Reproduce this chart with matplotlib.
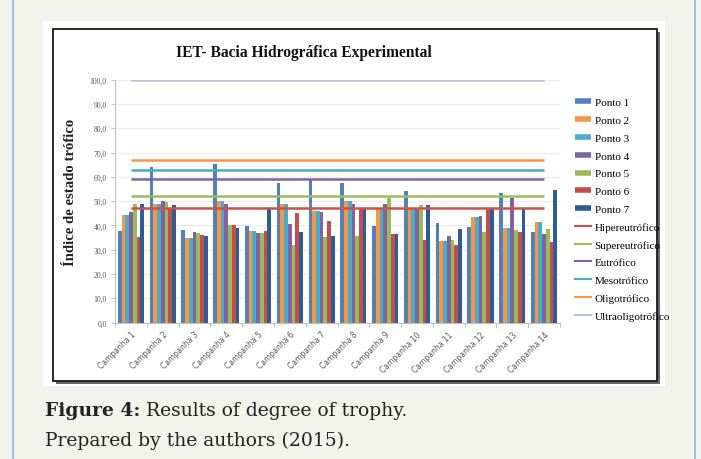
import matplotlib
matplotlib.use('Agg')
import matplotlib.pyplot as plt
import numpy as np
from matplotlib.patches import Rectangle
from matplotlib.lines import Line2D

# ---------------- data ----------------
campanhas = ['Campanha 1', 'Campanha 2', 'Campanha 3', 'Campanha 4', 'Campanha 5',
             'Campanha 6', 'Campanha 7', 'Campanha 8', 'Campanha 9', 'Campanha 10',
             'Campanha 11', 'Campanha 12', 'Campanha 13', 'Campanha 14']
ponto1 = [37.6, 64.0, 38.3, 65.4, 39.7, 57.4, 58.8, 57.4, 39.7, 54.2, 40.9, 39.4, 53.2, 37.1]
ponto2 = [44.3, 48.8, 34.6, 50.1, 37.7, 48.8, 46.0, 50.1, 46.7, 46.7, 33.5, 43.3, 38.8, 41.2]
ponto3 = [44.3, 48.8, 34.6, 50.1, 37.6, 48.8, 46.0, 50.0, 46.7, 46.7, 33.5, 43.3, 38.8, 41.2]
ponto4 = [45.5, 50.1, 37.2, 48.6, 36.9, 40.6, 45.6, 48.6, 48.7, 46.7, 35.7, 43.7, 51.4, 36.5]
ponto5 = [48.8, 49.5, 36.8, 40.3, 36.9, 32.0, 35.1, 35.6, 51.1, 48.3, 34.1, 37.1, 38.2, 38.4]
ponto6 = [35.4, 47.1, 35.9, 40.3, 37.7, 45.3, 42.0, 46.8, 36.3, 34.1, 32.0, 46.7, 37.1, 33.1]
ponto7 = [48.6, 48.3, 35.6, 39.0, 47.0, 37.2, 35.5, 46.8, 36.6, 48.4, 38.5, 46.7, 46.7, 54.7]
series_names = ['Ponto 1', 'Ponto 2', 'Ponto 3', 'Ponto 4', 'Ponto 5', 'Ponto 6', 'Ponto 7']
series_vals = [ponto1, ponto2, ponto3, ponto4, ponto5, ponto6, ponto7]
series_colors = ['#4F81BD', '#F79646', '#4BACC6', '#8064A2', '#9BBB59', '#C0504D', '#2F5C96']

class_names = ['Hipereutrófico', 'Supereutrófico', 'Eutrófico', 'Mesotrófico',
               'Oligotrófico', 'Ultraoligotrófico']
class_levels = [47, 52, 59, 63, 67, 100]
class_colors = ['#D0504D', '#9BBB59', '#8064A2', '#4BACC6', '#F79646', '#B8C4DA']

yticks = [0, 10, 20, 30, 40, 50, 60, 70, 80, 90, 100]

# ---------------- figure ----------------
W, H = 701, 460
fig = plt.figure(figsize=(7.01, 4.60), dpi=100)
fig.patch.set_facecolor('#F3F3EE')

def fx(px):
    return px / W

def fy(py):
    return 1 - py / H

tf = fig.transFigure
for xp in (13.5, 694.5):
    fig.add_artist(Line2D([fx(xp), fx(xp)], [0, 1], color='#8DB4E2', lw=1.2,
                          transform=tf, zorder=-5))

fig.add_artist(Rectangle((fx(43), fy(387)), fx(665) - fx(43), fy(22) - fy(387),
                         transform=tf, facecolor='white', edgecolor='none', zorder=-4))
fig.add_artist(Rectangle((fx(55.5), fy(384.5)), fx(657) - fx(53), fy(30) - fy(382),
                         transform=tf, facecolor='#666666', edgecolor='none', zorder=-3))
fig.add_artist(Rectangle((fx(53), fy(382)), fx(657) - fx(53), fy(30) - fy(382),
                         transform=tf, facecolor='white', edgecolor='#1A1A1A', lw=1.3,
                         zorder=-2))

ax = fig.add_axes([fx(115), fy(323.5), fx(560) - fx(115), fy(80.7) - fy(323.5)])
ax.set_facecolor('none')

x = np.arange(len(campanhas))
n = len(series_vals)
bw = 1 / (n + 1.5)
for i, (vals, col) in enumerate(zip(series_vals, series_colors)):
    ax.bar(x + (i - (n - 1) / 2) * bw, vals, width=bw, color=col, edgecolor='none',
           zorder=2)

for lvl, col in zip(class_levels, class_colors):
    ax.hlines(lvl, x[0], x[-1], color=col, lw=1.8, zorder=3)

ax.set_xlim(-0.5, len(campanhas) - 0.5)
ax.set_ylim(0, 100)
ax.set_yticks(yticks)
ax.set_yticklabels([f'{v:.1f}'.replace('.', ',') for v in yticks],
                   fontsize=5.5, color='#595959', family='Liberation Serif')
ax.set_xticks(x)
ax.set_xticklabels(campanhas, rotation=45, ha='right', rotation_mode='anchor',
                   fontsize=5.5, color='#595959', family='DejaVu Sans')
ax.set_xticks(np.arange(-0.5, len(campanhas), 1), minor=True)
ax.tick_params(axis='x', which='major', length=0, pad=5)
ax.tick_params(axis='x', which='minor', length=3, color='#BFBFBF', width=0.7)
ax.tick_params(axis='y', length=3, color='#BFBFBF', width=0.7, pad=3)
for s in ('top', 'right'):
    ax.spines[s].set_visible(False)
for s in ('left', 'bottom'):
    ax.spines[s].set_color('#BFBFBF')
    ax.spines[s].set_linewidth(0.8)
ax.yaxis.grid(True, color='#EBEBEB', lw=0.8, zorder=0)
ax.set_axisbelow(True)

fig.text(fx(304), fy(53), 'IET- Bacia Hidrográfica Experimental', ha='center',
         va='center', family='Liberation Serif', weight='bold', size=11.2, color='#111111')
fig.text(fx(70), fy(192), 'Índice de estado trófico', ha='center', va='center',
         rotation=90, family='Liberation Serif', weight='bold', size=10.6, color='#222222')

handles = []
for nm, col in zip(series_names, series_colors):
    handles.append(Line2D([0], [0], color=col, lw=4, solid_capstyle='butt'))
for nm, col in zip(class_names, class_colors):
    handles.append(Line2D([0], [0], color=col, lw=1.5))
fig.legend(handles, series_names + class_names, loc='upper left',
           bbox_to_anchor=(fx(569), fy(93)), frameon=False, borderpad=0,
           handlelength=1.5, handletextpad=0.3, labelspacing=0.72,
           prop={'family': 'Liberation Serif', 'size': 8})

t1 = fig.text(fx(45), fy(411), 'Figure 4:', ha='left', va='center',
              family='DejaVu Serif', weight='bold', size=13.5, color='#222222')
fig.canvas.draw()
bb = t1.get_window_extent(fig.canvas.get_renderer())
fig.text(bb.x1 / W + fx(6), fy(411), 'Results of degree of trophy.', ha='left',
         va='center', family='DejaVu Serif', size=13.5, color='#222222')
fig.text(fx(45), fy(441), 'Prepared by the authors (2015).', ha='left', va='center',
         family='DejaVu Serif', size=13.5, color='#222222')

fig.savefig('out.png', dpi=100, facecolor=fig.get_facecolor())
